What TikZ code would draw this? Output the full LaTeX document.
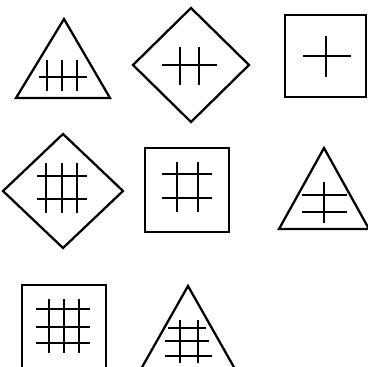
\documentclass[tikz,border=0pt]{standalone}
\usepackage{tikz}

\begin{document}
\begin{tikzpicture}[
  x=0.02cm, y=-0.02cm,
  outline/.style={line width=1.3pt, line join=miter},
  bar/.style={line width=1.3pt},
]
  \useasboundingbox (0,0) rectangle (368,367);
  \clip (0,0) rectangle (368,367);

  % top row
  \draw[outline] (64,19) -- (110,98) -- (16,98) -- cycle;
  \draw[bar] (39,77) -- (87,77);
  \foreach \x in {47,62,77} \draw[bar] (\x,60) -- (\x,91);

  \draw[outline] (191,8) -- (249,65) -- (191,122) -- (133,65) -- cycle;
  \draw[bar] (162,65) -- (217,65);
  \foreach \x in {180,199} \draw[bar] (\x,47) -- (\x,85);

  \draw[outline] (285,15) rectangle (366,97);
  \draw[bar] (303,56) -- (351,56);
  \draw[bar] (326,36) -- (326,77);

  % middle row
  \draw[outline] (63,134) -- (123,191) -- (63,248) -- (3,191) -- cycle;
  \foreach \y in {176,199} \draw[bar] (37,\y) -- (87,\y);
  \foreach \x in {46,62,77} \draw[bar] (\x,163) -- (\x,213);

  \draw[outline] (145,148) rectangle (229,232);
  \foreach \y in {174,198} \draw[bar] (162,\y) -- (212,\y);
  \foreach \x in {177,198} \draw[bar] (\x,162) -- (\x,212);

  \draw[outline] (324,148) -- (369,229) -- (279,229) -- cycle;
  \foreach \y in {195,212} \draw[bar] (302,\y) -- (347,\y);
  \draw[bar] (324,182) -- (324,223);

  % bottom row
  \draw[outline] (22,285) rectangle (106,369);
  \foreach \y in {309,327,343} \draw[bar] (36,\y) -- (90,\y);
  \foreach \x in {49,64,79} \draw[bar] (\x,299) -- (\x,353);

  \draw[outline] (188,286) -- (235,369) -- (141,369) -- cycle;
  \draw[bar] (168,328) -- (206,328);
  \draw[bar] (165,341) -- (209,341);
  \draw[bar] (165,356) -- (212,356);
  \foreach \x in {180,198} \draw[bar] (\x,320) -- (\x,363);
\end{tikzpicture}
\end{document}
